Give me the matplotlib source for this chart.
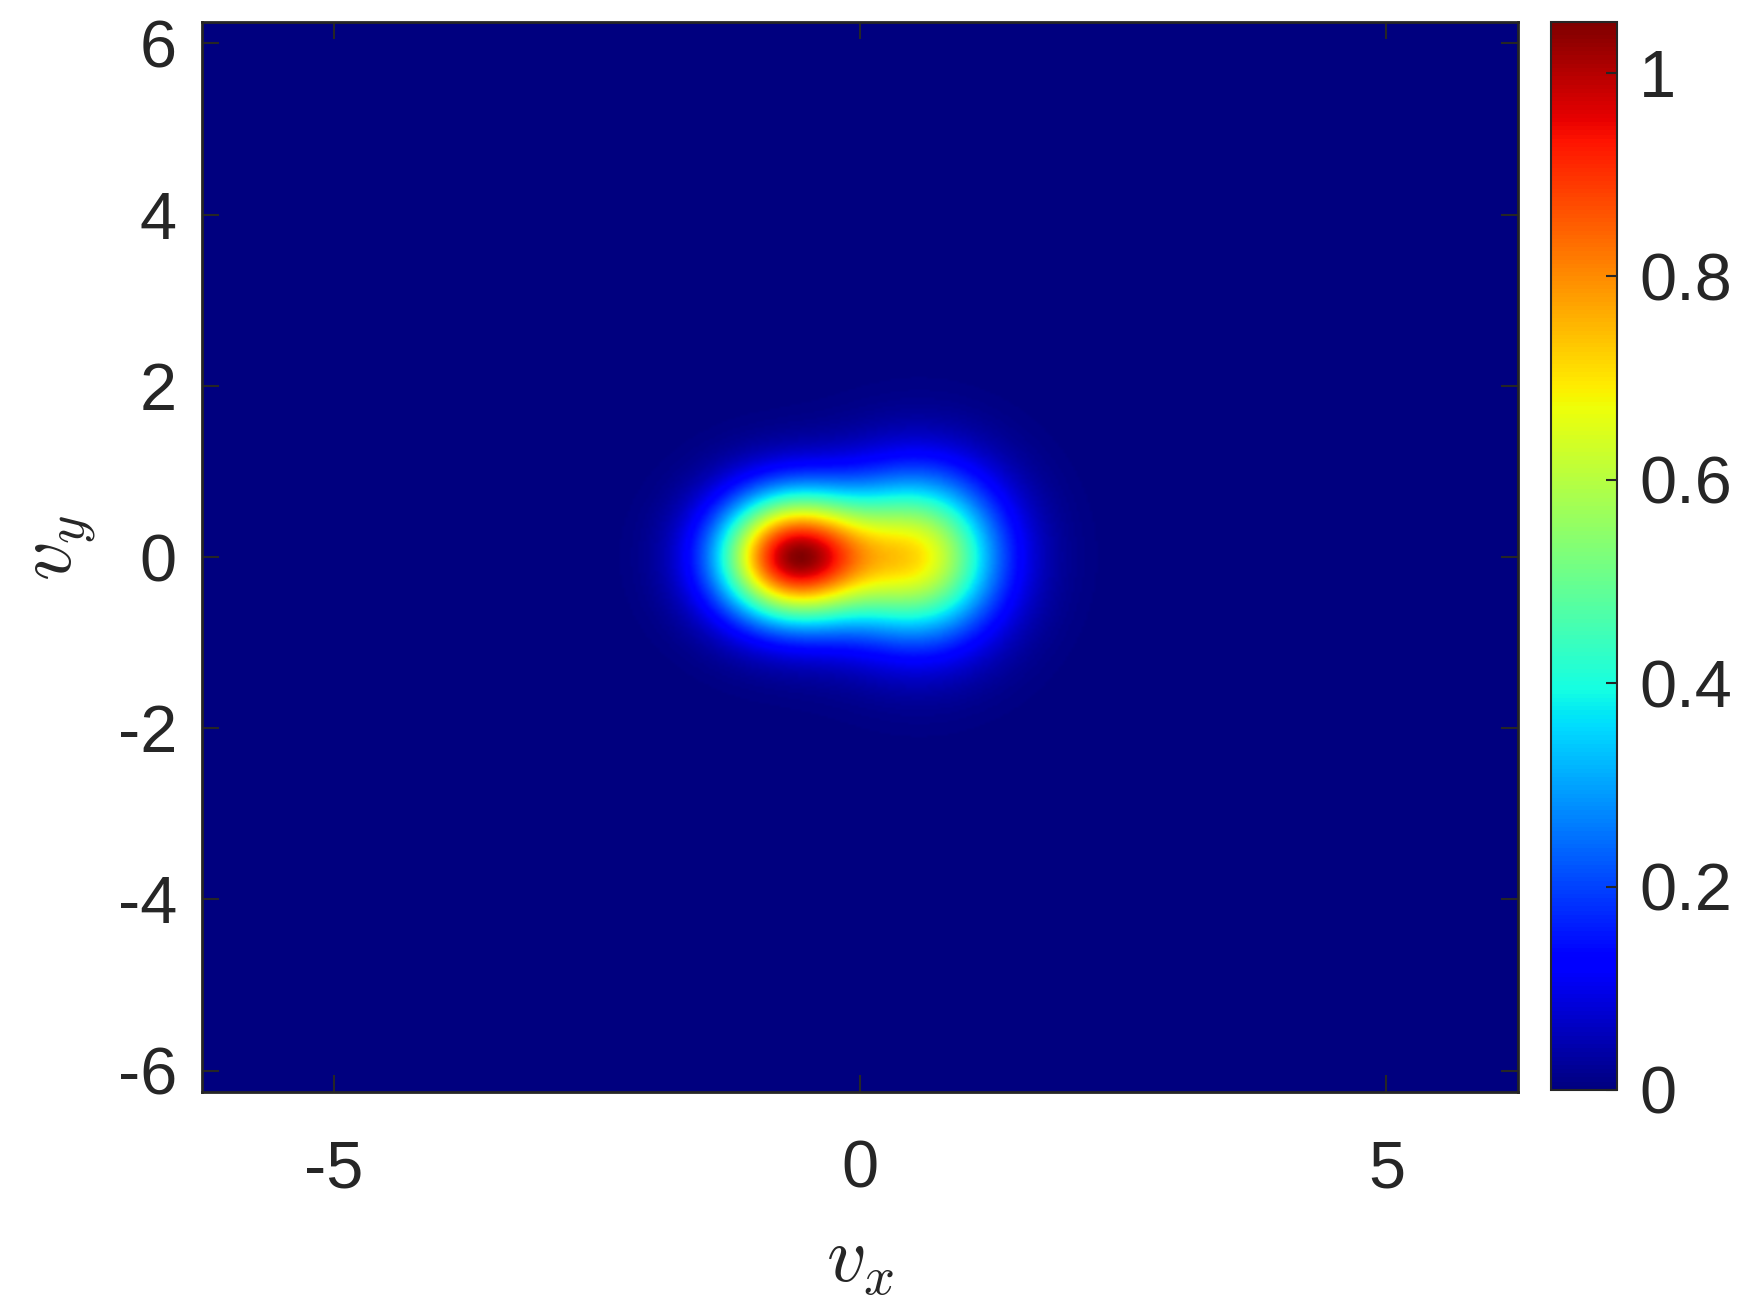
import numpy as np
import matplotlib.pyplot as plt

# velocity window (both axes)
v_lim = 6.25
n_grid = 501

# two gaussian bumps: main peak + right-hand shoulder
blob_vx = [-0.63, 0.57]
blob_vy = [0.0, 0.0]
blob_sx = [0.50, 0.53]
blob_sy = [0.52, 0.66]
blob_amp = [0.99, 0.65]

x_ticks = [-5, 0, 5]
y_ticks = [-6, -4, -2, 0, 2, 4, 6]
cbar_ticks = [0, 0.2, 0.4, 0.6, 0.8, 1]
c_max = 1.05

plt.rcParams['font.family'] = ['Liberation Sans', 'DejaVu Sans']
plt.rcParams['mathtext.fontset'] = 'cm'
plt.rcParams['axes.unicode_minus'] = False

vx = np.linspace(-v_lim, v_lim, n_grid)
vy = np.linspace(-v_lim, v_lim, n_grid)
VX, VY = np.meshgrid(vx, vy)
f = np.zeros_like(VX)
for cx, cy, sx, sy, a in zip(blob_vx, blob_vy, blob_sx, blob_sy, blob_amp):
    f += a * np.exp(-(VX - cx) ** 2 / (2 * sx ** 2) - (VY - cy) ** 2 / (2 * sy ** 2))

W, H = 1750, 1313
fig = plt.figure(figsize=(W / 100, H / 100), dpi=100)
ax = fig.add_axes([202 / W, 1 - 1092 / H, (1518 - 202) / W, (1092 - 22) / H])
cax = fig.add_axes([1551 / W, 1 - 1090 / H, 66 / W, (1090 - 22) / H])

im = ax.imshow(f, extent=[-v_lim, v_lim, -v_lim, v_lim], origin='lower',
               aspect='auto', cmap='jet', vmin=0, vmax=c_max,
               interpolation='bilinear')

dark = '#262626'
ax.set_xticks(x_ticks)
ax.set_yticks(y_ticks)
ax.tick_params(axis='both', direction='in', length=12, width=1.5,
               colors=dark, labelsize=48, top=True, right=True)
ax.tick_params(axis='x', pad=34)
ax.tick_params(axis='y', pad=18)
for sp in ax.spines.values():
    sp.set_color(dark)
    sp.set_linewidth(2)

ax.set_xlabel('$v_x$', fontsize=56, color=dark)
ax.xaxis.set_label_coords(0.5, -0.158)
ax.xaxis.label.set_va('center')
ax.set_ylabel('$v_y$', fontsize=56, color=dark)
ax.yaxis.set_label_coords(-0.107, 0.509)
ax.yaxis.label.set_va('center')

cb = fig.colorbar(im, cax=cax, ticks=cbar_ticks)
cb.ax.set_yticklabels([f'{t:g}' for t in cbar_ticks])
cb.ax.tick_params(direction='in', length=8, width=1.5, colors=dark,
                  labelsize=48, pad=16)
cb.outline.set_edgecolor(dark)
cb.outline.set_linewidth(1.5)

fig.savefig('out.png', dpi=100)
